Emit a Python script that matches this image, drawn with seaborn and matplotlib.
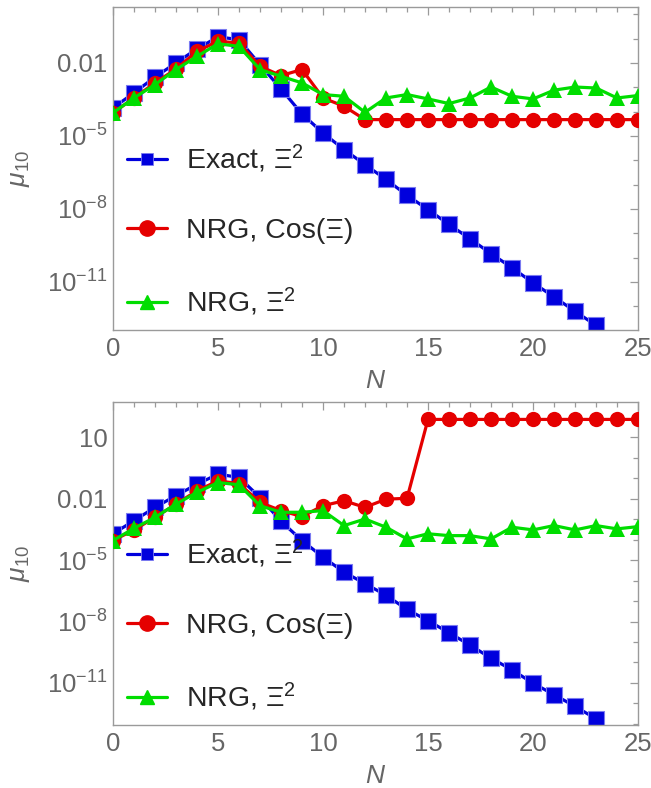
import numpy as np
import matplotlib
matplotlib.use("Agg")
import matplotlib.pyplot as plt
import seaborn as sns
from matplotlib.lines import Line2D
from matplotlib.ticker import FixedLocator, FixedFormatter, NullFormatter

# ---------------- data (log10 of mu_10) ----------------
N_all = list(range(26))
N_exact = list(range(24))

top_exact_exp = [-3.85, -3.23, -2.58, -2.0, -1.42, -0.93, -1.04, -2.07, -3.07, -4.10,
                 -4.88, -5.56, -6.18, -6.79, -7.44, -8.03, -8.64, -9.23, -9.84, -10.42,
                 -11.04, -11.62, -12.21, -12.79]
top_cos_exp = [-4.05, -3.44, -2.82, -2.25, -1.52, -1.11, -1.18, -2.14, -2.52, -2.27,
               -3.44, -3.78, -4.33, -4.33, -4.33, -4.33, -4.33, -4.33, -4.33, -4.33,
               -4.33, -4.33, -4.33, -4.33, -4.33, -4.33]
top_sq_exp = [-4.05, -3.44, -2.89, -2.27, -1.73, -1.21, -1.32, -2.27, -2.55, -2.82,
              -3.30, -3.37, -4.03, -3.44, -3.30, -3.48, -3.67, -3.44, -2.99, -3.37,
              -3.48, -3.12, -2.99, -3.03, -3.44, -3.34]

bot_exact_exp = [-3.72, -3.08, -2.43, -1.86, -1.30, -0.81, -0.97, -1.95, -3.11, -4.05,
                 -4.86, -5.59, -6.15, -6.72, -7.41, -7.96, -8.55, -9.15, -9.79, -10.36,
                 -11.01, -11.57, -12.14, -12.75]
bot_cos_exp = [-4.05, -3.53, -2.92, -2.27, -1.62, -1.14, -1.27, -2.19, -2.59, -2.88,
               -2.35, -2.11, -2.43, -2.03, -1.99, 1.86, 1.86, 1.86, 1.86, 1.86,
               1.86, 1.86, 1.86, 1.86, 1.86, 1.86]
bot_sq_exp = [-4.05, -3.45, -2.92, -2.27, -1.70, -1.22, -1.33, -2.35, -2.67, -2.67,
              -2.59, -3.32, -3.00, -3.40, -3.97, -3.72, -3.81, -3.81, -3.97, -3.40,
              -3.53, -3.32, -3.53, -3.32, -3.48, -3.37]

labels = ["Exact, Ξ$^{2}$", "NRG, Cos(Ξ)", "NRG, Ξ$^{2}$"]
x_ticks = [0, 5, 10, 15, 20, 25]
top_label_exps = [-11, -8, -5, -2]
bot_label_exps = [-11, -8, -5, -2, 1]

# ---------------- style ----------------
sns.set_style("white")
plt.rcParams["font.family"] = ["Liberation Sans", "DejaVu Sans"]
plt.rcParams["mathtext.fontset"] = "custom"
plt.rcParams["mathtext.rm"] = "Liberation Sans"
plt.rcParams["mathtext.it"] = "Liberation Sans:italic"
plt.rcParams["mathtext.bf"] = "Liberation Sans:bold"

BLUE = "#0000DD"
BLUE_EDGE = "#7A7AF0"
RED = "#E50000"
GREEN = "#00DD00"
GRAY = "#666666"
FRAME = "#9A9A9A"


def fmt_exp(e):
    if e == -2:
        return "0.01"
    if e == 1:
        return "10"
    return r"$10^{%d}$" % e


def draw_panel(ax, exact_exp, cos_exp, sq_exp, ylim_exp, label_exps):
    sns.lineplot(x=N_exact, y=np.power(10.0, exact_exp), ax=ax, color=BLUE,
                 linewidth=2.3, marker="s", markersize=11, markeredgecolor=BLUE_EDGE,
                 markeredgewidth=0.8, zorder=2)
    sns.lineplot(x=N_all, y=np.power(10.0, cos_exp), ax=ax, color=RED,
                 linewidth=2.3, marker="o", markersize=11, markeredgecolor=RED,
                 markeredgewidth=0, zorder=3)
    sns.lineplot(x=N_all, y=np.power(10.0, sq_exp), ax=ax, color=GREEN,
                 linewidth=2.3, marker="^", markersize=11, markeredgecolor=GREEN,
                 markeredgewidth=0, zorder=4)
    ax.set_yscale("log")
    ax.set_xlim(0, 25)
    ax.set_ylim(10 ** ylim_exp[0], 10 ** ylim_exp[1])

    # x ticks
    ax.xaxis.set_major_locator(FixedLocator(x_ticks))
    ax.xaxis.set_minor_locator(FixedLocator(list(range(26))))
    ax.set_xticklabels([str(t) for t in x_ticks])
    # y ticks
    lo, hi = int(np.ceil(ylim_exp[0])), int(np.floor(ylim_exp[1]))
    ax.yaxis.set_major_locator(FixedLocator([10.0 ** e for e in label_exps]))
    ax.yaxis.set_major_formatter(FixedFormatter([fmt_exp(e) for e in label_exps]))
    ax.yaxis.set_minor_locator(FixedLocator([10.0 ** e for e in range(lo, hi + 1)
                                             if e not in label_exps]))
    ax.yaxis.set_minor_formatter(NullFormatter())

    ax.tick_params(which="both", direction="in", top=True, right=True,
                   color=FRAME, labelcolor=GRAY, labelsize=18.5, width=0.9)
    ax.tick_params(which="major", length=6)
    ax.tick_params(which="minor", length=3.5)
    ax.tick_params(axis="x", which="both", labeltop=False, pad=5)
    ax.tick_params(axis="y", which="both", labelright=False, pad=4)
    for s in ax.spines.values():
        s.set_color(FRAME)
        s.set_linewidth(1.0)

    ax.set_xlabel("$N$", fontsize=19, color=GRAY)
    ax.set_ylabel(r"$\mu_{10}$", fontsize=19, color=GRAY)
    ax.xaxis.set_label_coords(0.5, -0.12)
    ax.yaxis.set_label_coords(-0.155, 0.5)

    handles = [
        Line2D([], [], color=BLUE, lw=2.3, marker="s", markersize=8,
               markeredgecolor=BLUE_EDGE, markeredgewidth=0.6),
        Line2D([], [], color=RED, lw=2.3, marker="o", markersize=11),
        Line2D([], [], color=GREEN, lw=2.3, marker="^", markersize=10),
    ]
    ax.legend(handles, labels, loc="upper left", bbox_to_anchor=(0.027, 0.58),
              frameon=False, fontsize=20.5, labelspacing=1.5, handlelength=1.4,
              handletextpad=0.65, borderpad=0, borderaxespad=0)


fig = plt.figure(figsize=(6.51, 7.88), dpi=100)
ax1 = fig.add_axes([113 / 651, (788 - 330) / 788, 525 / 651, 323 / 788])
ax2 = fig.add_axes([113 / 651, (788 - 725) / 788, 525 / 651, 323 / 788])

draw_panel(ax1, top_exact_exp, top_cos_exp, top_sq_exp, (-12.98, 0.3), top_label_exps)
draw_panel(ax2, bot_exact_exp, bot_cos_exp, bot_sq_exp, (-13.05, 2.71), bot_label_exps)

fig.savefig("out.png", dpi=100)
